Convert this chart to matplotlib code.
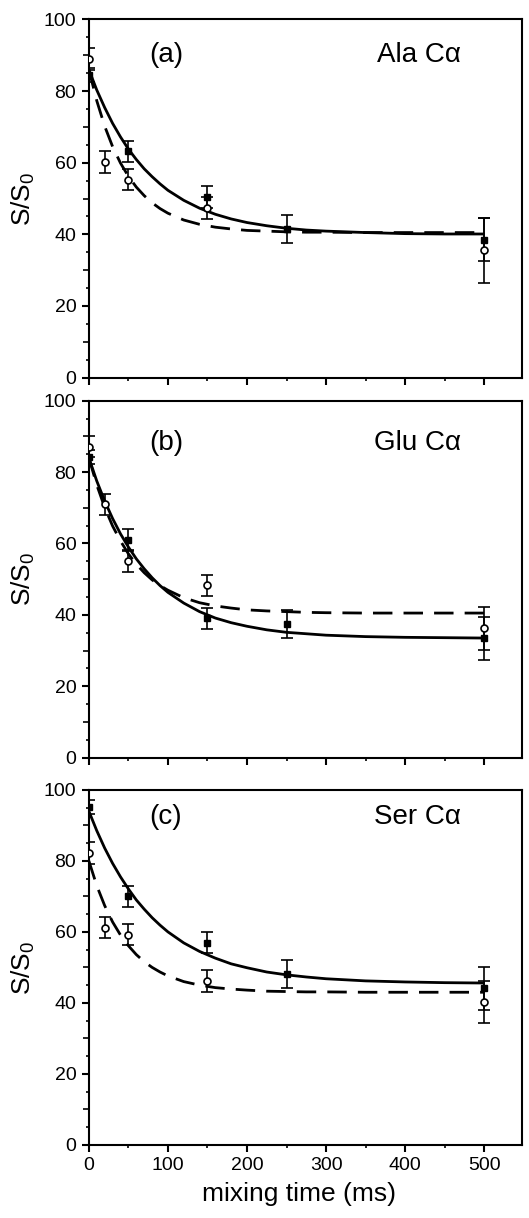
import numpy as np
import matplotlib
matplotlib.use('Agg')
import matplotlib.pyplot as plt
from matplotlib.ticker import MultipleLocator

plt.rcParams['font.family'] = ['Liberation Sans', 'DejaVu Sans']
plt.rcParams['mathtext.fontset'] = 'custom'
plt.rcParams['mathtext.rm'] = 'Liberation Sans'

# measured points (mixing time in ms)
t_sq = [0, 50, 150, 250, 500]
t_circ = [0, 20, 50, 150, 500]

# fitted curves
t_fit = [0, 10, 20, 30, 40, 50, 60, 70, 80, 90, 100, 120, 140, 160, 180,
         200, 225, 250, 275, 300, 350, 400, 450, 500]

panel_tags = ['(a)', '(b)', '(c)']
panel_names = ['Ala C\u03b1', 'Glu C\u03b1', 'Ser C\u03b1']

sq_vals = [[84.5, 63.2, 50.4, 41.5, 38.5],
           [84.3, 61.0, 39.0, 37.4, 33.4],
           [95.1, 70.0, 57.0, 48.2, 44.1]]
sq_errs = [[2, 3, 3, 4, 6],
           [2, 3, 3, 4, 6],
           [2, 3, 3, 4, 6]]

circ_vals = [[89.0, 60.2, 55.3, 47.3, 35.5],
             [87.1, 71.0, 55.1, 48.3, 36.2],
             [82.2, 61.2, 59.2, 46.2, 40.2]]
circ_errs = [[3, 3, 3, 3, 9],
             [3, 3, 3, 3, 6],
             [3, 3, 3, 3, 6]]

solid_fit = [[86.0, 80.3, 75.4, 71.0, 67.2, 63.8, 60.9, 58.3, 56.1, 54.1, 52.3, 49.5,
              47.3, 45.6, 44.3, 43.3, 42.4, 41.7, 41.2, 40.9, 40.5, 40.2, 40.1, 40.1],
             [84.0, 77.5, 71.9, 67.0, 62.7, 59.0, 55.7, 52.9, 50.4, 48.2, 46.3, 43.3,
              40.9, 39.1, 37.8, 36.8, 35.8, 35.1, 34.7, 34.3, 33.9, 33.7, 33.6, 33.5],
             [94.0, 88.5, 83.6, 79.3, 75.5, 72.1, 69.0, 66.4, 64.0, 61.9, 60.0, 56.9,
              54.5, 52.6, 51.0, 49.9, 48.7, 47.9, 47.3, 46.8, 46.2, 45.9, 45.7, 45.6]]
dashed_fit = [[86.0, 77.3, 70.2, 64.5, 59.9, 56.2, 53.2, 50.8, 48.8, 47.2, 45.9, 44.0,
               42.8, 42.0, 41.5, 41.1, 40.9, 40.7, 40.6, 40.6, 40.5, 40.5, 40.5, 40.5],
              [84.0, 76.4, 70.1, 64.9, 60.7, 57.1, 54.2, 51.8, 49.8, 48.2, 46.9, 44.8,
               43.4, 42.5, 41.9, 41.4, 41.1, 40.9, 40.7, 40.6, 40.5, 40.5, 40.5, 40.5],
              [80.0, 73.0, 67.4, 62.8, 59.1, 56.1, 53.6, 51.6, 50.0, 48.7, 47.6, 46.0,
               45.0, 44.3, 43.9, 43.6, 43.3, 43.2, 43.1, 43.1, 43.0, 43.0, 43.0, 43.0]]

# axes boxes in figure fractions [left, bottom, width, height]
boxes = [[0.168, 0.690, 0.819, 0.294],
         [0.168, 0.378, 0.819, 0.293],
         [0.168, 0.060, 0.819, 0.2915]]
tag_y = [0.902, 0.882, 0.924]

fig = plt.figure(figsize=(5.29, 12.18), dpi=100)

for i in range(3):
    ax = fig.add_axes(boxes[i])

    ax.plot(t_fit, solid_fit[i], color='black', lw=2.0, solid_capstyle='butt')
    ax.plot(t_fit, dashed_fit[i], color='black', lw=2.0, dashes=(7, 4))

    ax.errorbar(t_sq, sq_vals[i], yerr=sq_errs[i], fmt='none', ecolor='black',
                elinewidth=1.2, capsize=4.5, capthick=1.2)
    ax.errorbar(t_circ, circ_vals[i], yerr=circ_errs[i], fmt='none', ecolor='black',
                elinewidth=1.2, capsize=4.5, capthick=1.2)
    ax.plot(t_sq, sq_vals[i], 's', color='black', ms=5, zorder=4)
    ax.plot(t_circ, circ_vals[i], 'o', mfc='white', mec='black', mew=1.2, ms=5, zorder=5)

    ax.text(0.139, tag_y[i], panel_tags[i], transform=ax.transAxes,
            fontsize=20, ha='left', va='center')
    ax.text(0.859, tag_y[i], panel_names[i], transform=ax.transAxes,
            fontsize=20, ha='right', va='center')

    ax.set_xlim(0, 548)
    ax.set_ylim(0, 100)
    ax.xaxis.set_major_locator(MultipleLocator(100))
    ax.xaxis.set_minor_locator(MultipleLocator(50))
    ax.yaxis.set_major_locator(MultipleLocator(20))
    ax.yaxis.set_minor_locator(MultipleLocator(5))
    ax.tick_params(which='major', direction='out', length=5, width=1.5,
                   labelsize=14, pad=4, top=False, right=False)
    ax.tick_params(which='minor', direction='out', length=2.5, width=1.2,
                   top=False, right=False)
    for tick, loc in zip(ax.yaxis.get_minor_ticks(), ax.yaxis.get_minorticklocs()):
        if abs(loc % 10) < 1e-6:
            tick.tick1line.set_markersize(4)
    for s in ax.spines.values():
        s.set_linewidth(1.5)

    ax.set_ylabel('S/S$_\\mathregular{0}$', fontsize=19, labelpad=5)
    if i < 2:
        ax.tick_params(axis='x', labelbottom=False)
    else:
        ax.set_xlabel('mixing time (ms)', fontsize=19, labelpad=8)
        ax.xaxis.set_label_coords(0.485, -0.105)

plt.savefig('out.png', dpi=100)
